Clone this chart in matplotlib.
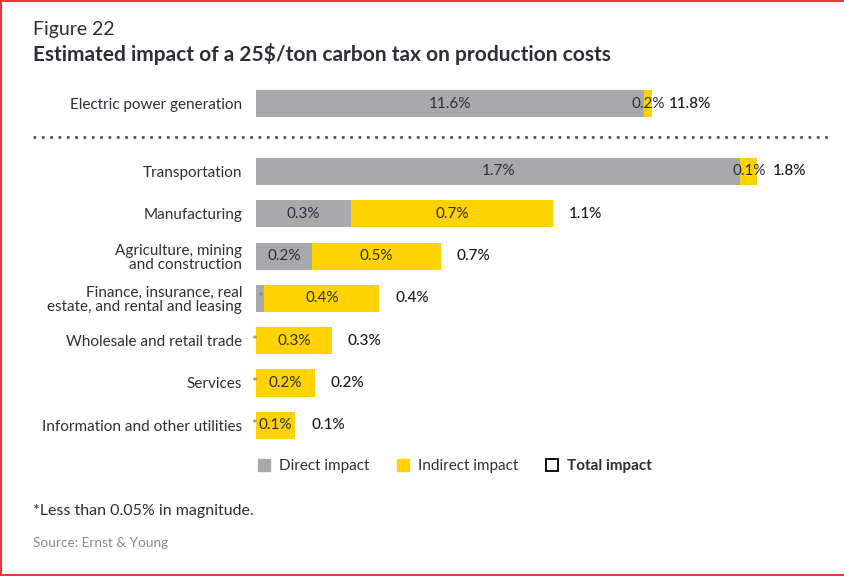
import matplotlib.pyplot as plt
from matplotlib.patches import Patch
from matplotlib.lines import Line2D

plt.rcParams['font.family'] = ['Lato', 'DejaVu Sans']

# data (percent of production costs)
top_cat = ["Electric power generation"]
top_direct = [11.58]
top_indirect = [0.24]

categories = ["Transportation", "Manufacturing", "Agriculture, mining\nand construction",
              "Finance, insurance, real\nestate, and rental and leasing",
              "Wholesale and retail trade", "Services", "Information and other utilities"]
direct = [1.73, 0.34, 0.20, 0.03, 0.0, 0.0, 0.0]
indirect = [0.06, 0.72, 0.46, 0.41, 0.27, 0.21, 0.14]

GRAY = "#A7AAAD"
YELLOW = "#FFD200"
TXT = "#2E2E38"

W, H = 845, 576
fig = plt.figure(figsize=(W / 100, H / 100), dpi=100)


def fx(px):
    return px / W


def fy(py):
    return 1 - py / H


left_px, right_px = 256, 830
ax_top = fig.add_axes([fx(left_px), fy(125), fx(right_px - left_px), 43 / H])
ax_bot = fig.add_axes([fx(left_px), fy(446.45), fx(right_px - left_px), 296.1 / H])


def lab(v):
    return f"{v:.1f}%"


def draw(ax, cats, d, ind, px_per_unit, bh):
    ypos = list(range(len(cats)))
    ax.barh(ypos, d, height=bh, color=GRAY)
    ax.barh(ypos, ind, left=d, height=bh, color=YELLOW)
    off = 16 / px_per_unit
    for y, a, b in zip(ypos, d, ind):
        if a < 0.05:
            sx = a / 2 if a > 0.02 else -2 / px_per_unit
            ax.text(sx, y, "*", ha="center", va="center", fontsize=10, color="#777777")
        else:
            ax.text(a / 2, y, lab(a), ha="center", va="center", fontsize=11, color=TXT)
        ax.text(a + b / 2, y, lab(b), ha="center", va="center", fontsize=11, color=TXT)
        ax.text(a + b + off, y, f"{a + b:.1f}%", ha="left", va="center", fontsize=11,
                color="#1A1A24", fontweight="medium")
    ax.set_yticks(ypos)
    ax.set_yticklabels(cats, fontsize=11, color=TXT, linespacing=1.0)
    ax.set_ylim(len(cats) - 0.5, -0.5)
    ax.set_xlim(0, (right_px - left_px) / px_per_unit)
    ax.tick_params(axis="y", length=0, pad=10)
    ax.set_xticks([])
    for s in ax.spines.values():
        s.set_visible(False)


draw(ax_top, top_cat, top_direct, top_indirect, 389 / 11.6, 0.63)
draw(ax_bot, categories, direct, indirect, 280, 0.64)

# titles
fig.text(fx(33), fy(30), "Figure 22", fontsize=14, color=TXT, va="center")
fig.text(fx(33), fy(54), "Estimated impact of a 25$/ton carbon tax on production costs",
         fontsize=15, color=TXT, va="center", fontweight="bold")

# dotted separator
fig.add_artist(Line2D([fx(33), fx(830)], [fy(137), fy(137)], color="#555555", lw=2,
                      linestyle=(0, (1, 2))))

# legend
handles = [Patch(facecolor=GRAY, edgecolor=GRAY), Patch(facecolor=YELLOW, edgecolor=YELLOW),
           Patch(facecolor="white", edgecolor="black", linewidth=1.3)]
leg = fig.legend(handles, ["Direct impact", "Indirect impact", "Total impact"],
                 loc="center", bbox_to_anchor=(fx(455), fy(466)), ncol=3, frameon=False,
                 fontsize=11, handlelength=0.8, handleheight=0.8, handletextpad=0.6,
                 columnspacing=1.8)
for t in leg.get_texts():
    t.set_color(TXT)
leg.get_texts()[2].set_fontweight("bold")

fig.text(fx(33), fy(511), "*Less than 0.05% in magnitude.", fontsize=11.5, color=TXT, va="center")
fig.text(fx(33), fy(543), "Source: Ernst & Young", fontsize=9.8, color="#8A8A90", va="center")

# red border (left, top, bottom)
for xs, ys in [([0.5, 0.5], [0, H]), ([0, W], [1, 1]), ([0, W], [H - 1, H - 1])]:
    fig.add_artist(Line2D([fx(x) for x in xs], [fy(y) for y in ys], color="#E8383D", lw=1.5))

fig.savefig("out.png", dpi=100)
